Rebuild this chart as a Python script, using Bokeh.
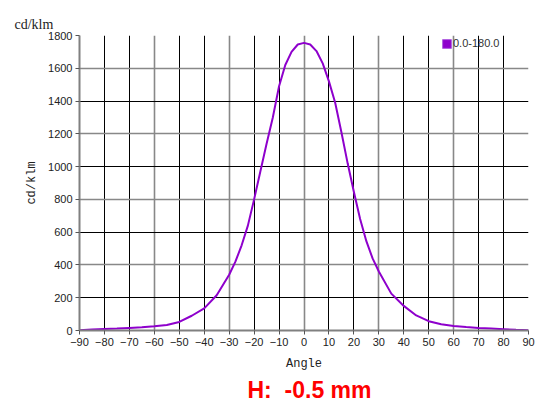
from bokeh.plotting import figure
from bokeh.models import (ColumnDataSource, FixedTicker, Grid, Legend, LegendItem,
                          Title, Range1d)
from bokeh.embed import file_html
from bokeh.resources import INLINE

# ---- data ----
angles = [-90, -85, -80, -75, -70, -65, -60, -55, -50, -45, -40, -35, -30, -27.5, -25,
          -22.5, -20, -17.5, -15, -12.5, -10, -7.5, -5, -2.5, 0, 2.5, 5, 7.5, 10, 12.5,
          15, 17.5, 20, 22.5, 25, 27.5, 30, 35, 40, 45, 50, 55, 60, 65, 70, 75, 80, 85, 90]
intensity = [2, 6, 9, 12, 16, 20, 26, 34, 52, 90, 135, 215, 340, 420, 520,
             640, 800, 970, 1140, 1300, 1490, 1620, 1700, 1745, 1755, 1745, 1705, 1630, 1520, 1390,
             1210, 1020, 845, 680, 545, 440, 360, 225, 150, 92, 57, 38, 28, 21, 16, 12, 8, 4, 1]
series_name = "0.0-180.0"
x_ticks = list(range(-90, 91, 10))
y_ticks = list(range(0, 1801, 200))
x_dark_grid = [-80, -70, -50, -40, -20, -10, 10, 20, 40, 50, 70, 80]
x_light_grid = [-60, -30, 0, 30, 60, 90]
y_dark_grid = [200, 600, 1000, 1400, 1800]
y_light_grid = [400, 800, 1200, 1600]
x_label = "Angle"
y_label = "cd/klm"
top_label = "cd/klm"
caption = "H:\u00a0 -0.5 mm"

CURVE = "#8E00CC"
TICK_FONT = "Liberation Sans"
MONO = "Liberation Mono"

p = figure(frame_width=449, frame_height=295, width=537, height=405,
           min_border_left=79, min_border_right=9, min_border_top=35, min_border_bottom=10,
           x_range=Range1d(-90, 90), y_range=Range1d(0, 1800),
           output_backend="svg", toolbar_location=None)
p.outline_line_color = None
p.background_fill_color = "white"
p.xgrid.visible = False
p.ygrid.visible = False

for ticks, dim, col, w in [(x_dark_grid, 0, "#000000", 1), (x_light_grid, 0, "#888888", 1.6),
                           (y_dark_grid, 1, "#000000", 1), (y_light_grid, 1, "#888888", 1.6)]:
    g = Grid(dimension=dim, ticker=FixedTicker(ticks=ticks),
             grid_line_color=col, grid_line_width=w)
    p.add_layout(g)

src = ColumnDataSource(dict(x=angles, y=intensity))
p.line("x", "y", source=src, line_color=CURVE, line_width=2)

# legend swatch: zero-size hidden rects on the same data, used only for the legend square
sq = p.rect("x", "y", width=0, height=0, source=src,
            fill_color=CURVE, line_color="#B060E0", line_width=1, visible=False)

legend = Legend(items=[LegendItem(label=series_name, renderers=[sq])],
                location=(362, 281), padding=0, margin=0, spacing=0,
                glyph_width=11, glyph_height=11, label_standoff=1, label_height=11,
                background_fill_alpha=0, border_line_alpha=0, inactive_fill_alpha=0,
                label_text_font=TICK_FONT, label_text_font_size="11px",
                label_text_color="#333333")
p.add_layout(legend)

for ax, ticks in [(p.xaxis[0], x_ticks), (p.yaxis[0], y_ticks)]:
    ax.ticker = FixedTicker(ticks=ticks)
    ax.axis_line_color = "#808080"
    ax.axis_line_width = 2
    ax.major_tick_line_color = "#555555"
    ax.major_tick_out = 4
    ax.major_tick_in = 0
    ax.minor_tick_line_color = None
    ax.major_label_text_font = TICK_FONT
    ax.major_label_text_font_size = "11px"
    ax.major_label_text_color = "#222222"
    ax.major_label_standoff = 3
    ax.axis_label_text_font = MONO
    ax.axis_label_text_font_size = "12px"
    ax.axis_label_text_font_style = "normal"
    ax.axis_label_text_color = "#222222"
    ax.axis_label_standoff = 6

p.xaxis.axis_label_standoff = 8
p.xaxis.axis_label = x_label
p.yaxis.axis_label = y_label

t = Title(text=top_label, align="left", offset=-65, text_font="Liberation Serif",
          text_font_size="14px", text_font_style="normal", text_color="#222222", standoff=8)
p.add_layout(t, "above")

cap = Title(text=caption, align="left", offset=168, text_font="Liberation Sans",
            text_font_size="23px", text_font_style="bold", text_color="#FF0000", standoff=3)
p.add_layout(cap, "below")

open("out.html", "w").write(file_html(p, INLINE))
